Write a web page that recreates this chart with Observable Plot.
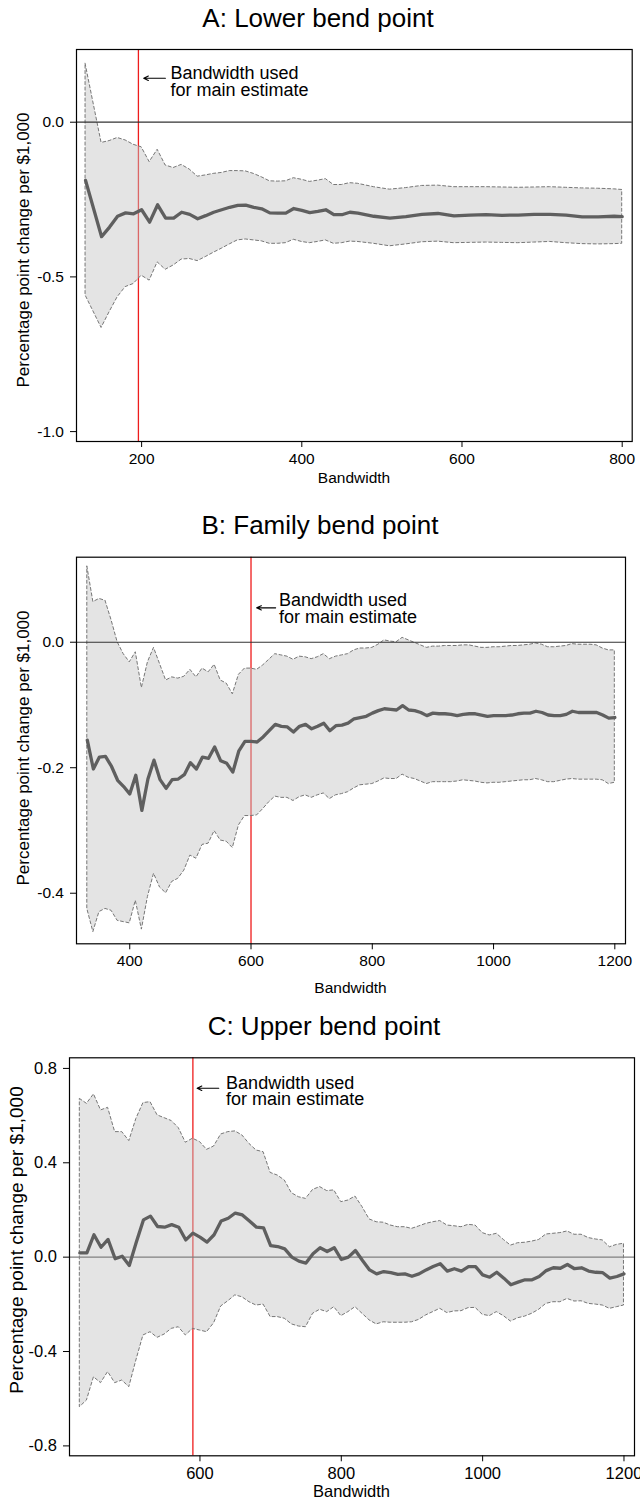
<!DOCTYPE html>
<html>
<head>
<meta charset="utf-8">
<script src="https://cdn.jsdelivr.net/npm/d3@7"></script>
<script src="https://cdn.jsdelivr.net/npm/@observablehq/plot@0.6"></script>
<style>
  body { margin: 0; background: #fff; }
  #chart { position: relative; width: 640px; height: 1502px; font-family: "Liberation Sans", Arial, sans-serif; }
  #chart svg { position: absolute; left: 0; }
</style>
</head>
<body>
<div id="chart"></div>
<script>
// ---------- Panel A: Lower bend point ----------
const aX = [130,150,160,170,180,190,200,210,220,230,240,250,260,270,280,290,300,310,320,330,340,350,360,370,380,390,400,410,420,430,440,450,460,470,
            490,510,530,550,570,590,610,630,650,670,690,710,730,750,770,790,800];
const aEst = [-0.188,-0.370,-0.339,-0.304,-0.293,-0.296,-0.283,-0.323,-0.267,-0.310,-0.310,-0.291,-0.298,-0.312,-0.302,-0.291,-0.283,-0.275,-0.269,-0.268,-0.275,-0.280,-0.293,-0.294,-0.294,-0.279,-0.285,-0.292,-0.288,-0.283,-0.299,-0.299,-0.291,-0.294,
              -0.304,-0.310,-0.305,-0.298,-0.295,-0.303,-0.300,-0.299,-0.301,-0.300,-0.298,-0.298,-0.300,-0.306,-0.306,-0.304,-0.305];
const aHi = [0.189,-0.067,-0.061,-0.051,-0.059,-0.073,-0.081,-0.129,-0.089,-0.140,-0.148,-0.138,-0.153,-0.176,-0.172,-0.167,-0.164,-0.158,-0.158,-0.159,-0.167,-0.178,-0.191,-0.192,-0.191,-0.181,-0.186,-0.193,-0.189,-0.184,-0.203,-0.203,-0.197,-0.199,
             -0.210,-0.218,-0.213,-0.206,-0.205,-0.210,-0.210,-0.210,-0.211,-0.212,-0.211,-0.210,-0.212,-0.214,-0.215,-0.217,-0.219];
const aLo = [-0.560,-0.665,-0.614,-0.566,-0.533,-0.523,-0.496,-0.512,-0.453,-0.477,-0.463,-0.444,-0.442,-0.449,-0.436,-0.422,-0.409,-0.395,-0.382,-0.379,-0.382,-0.385,-0.393,-0.393,-0.391,-0.380,-0.387,-0.391,-0.387,-0.382,-0.393,-0.391,-0.386,-0.387,
             -0.393,-0.401,-0.395,-0.388,-0.386,-0.391,-0.390,-0.389,-0.390,-0.391,-0.389,-0.387,-0.391,-0.394,-0.395,-0.394,-0.393];
const aXTicks = [200,400,600,800];
const aYTicks = [0,-0.5,-1.0];
const aUsed = 196;

// ---------- Panel B: Family bend point ----------
const bX = [330,340,350,360,370,380,390,400,410,420,430,440,450,460,470,480,490,500,510,520,530,540,550,560,570,580,590,600,610,620,630,640,650,660,670,680,690,700,710,720,730,740,750,760,770,780,
            790,800,810,820,830,840,850,860,870,880,890,900,910,920,930,940,950,960,970,980,990,1000,1010,1020,1030,1040,1050,1060,1070,1080,1090,1100,1110,1120,1130,1140,1150,1160,1170,1180,1190,1200];
const bEst = [-0.156,-0.202,-0.183,-0.182,-0.198,-0.220,-0.230,-0.242,-0.212,-0.268,-0.218,-0.188,-0.219,-0.233,-0.219,-0.218,-0.211,-0.192,-0.202,-0.183,-0.185,-0.167,-0.189,-0.193,-0.207,-0.173,-0.158,-0.158,-0.159,-0.151,-0.141,-0.131,-0.134,-0.135,-0.143,-0.134,-0.131,-0.138,-0.134,-0.129,-0.141,-0.133,-0.132,-0.129,-0.122,-0.120,
              -0.118,-0.113,-0.109,-0.106,-0.107,-0.108,-0.101,-0.108,-0.109,-0.112,-0.117,-0.113,-0.114,-0.114,-0.115,-0.117,-0.115,-0.114,-0.114,-0.116,-0.118,-0.117,-0.117,-0.117,-0.116,-0.114,-0.113,-0.113,-0.110,-0.112,-0.116,-0.117,-0.117,-0.115,-0.110,-0.112,-0.112,-0.112,-0.112,-0.116,-0.121,-0.120];
const bHi = [0.121,0.064,0.069,0.066,0.035,0.000,-0.019,-0.032,-0.016,-0.073,-0.032,-0.009,-0.035,-0.061,-0.056,-0.058,-0.055,-0.044,-0.056,-0.042,-0.048,-0.036,-0.061,-0.066,-0.083,-0.052,-0.042,-0.042,-0.044,-0.037,-0.028,-0.019,-0.021,-0.023,-0.028,-0.023,-0.024,-0.027,-0.024,-0.019,-0.027,-0.023,-0.021,-0.019,-0.013,-0.010,
             -0.010,-0.009,-0.004,0.003,0.001,0.000,0.007,0.003,-0.001,-0.005,-0.009,-0.007,-0.007,-0.006,-0.006,-0.006,-0.005,-0.005,-0.007,-0.009,-0.009,-0.008,-0.008,-0.007,-0.006,-0.006,-0.005,-0.004,-0.002,-0.004,-0.008,-0.008,-0.007,-0.006,-0.003,-0.004,-0.004,-0.004,-0.005,-0.010,-0.013,-0.013];
const bLo = [-0.425,-0.462,-0.430,-0.425,-0.428,-0.444,-0.446,-0.448,-0.412,-0.458,-0.406,-0.369,-0.391,-0.400,-0.382,-0.377,-0.364,-0.340,-0.345,-0.323,-0.321,-0.301,-0.316,-0.318,-0.328,-0.292,-0.277,-0.277,-0.276,-0.266,-0.255,-0.246,-0.248,-0.248,-0.253,-0.247,-0.244,-0.248,-0.244,-0.241,-0.250,-0.244,-0.242,-0.239,-0.233,-0.228,
             -0.227,-0.226,-0.222,-0.217,-0.218,-0.218,-0.211,-0.216,-0.218,-0.222,-0.226,-0.223,-0.223,-0.223,-0.223,-0.222,-0.220,-0.221,-0.222,-0.224,-0.225,-0.224,-0.224,-0.223,-0.222,-0.221,-0.220,-0.220,-0.218,-0.220,-0.223,-0.223,-0.221,-0.219,-0.218,-0.219,-0.219,-0.219,-0.219,-0.220,-0.226,-0.224];
const bXTicks = [400,600,800,1000,1200];
const bYTicks = [-0.4,-0.2,0];
const bUsed = 600;

// ---------- Panel C: Upper bend point ----------
const cX = [430,440,450,460,470,480,490,500,510,520,530,540,550,560,570,580,590,600,610,620,630,640,650,660,670,680,690,700,710,720,730,740,750,760,770,780,790,800,810,820,
            830,840,850,860,870,880,890,900,910,920,930,940,950,960,970,980,990,1000,1010,1020,1030,1040,1050,1060,1070,1080,1090,1100,1110,1120,1130,1140,1150,1160,1170,1180,1190,1200];
const cEst = [0.018,0.018,0.095,0.042,0.075,-0.007,0.004,-0.035,0.064,0.158,0.174,0.130,0.127,0.138,0.127,0.073,0.102,0.085,0.064,0.095,0.153,0.165,0.187,0.179,0.153,0.127,0.124,0.049,0.045,0.035,0.000,-0.017,-0.025,0.014,0.040,0.024,0.040,-0.010,0.000,0.028,
              -0.014,-0.054,-0.071,-0.061,-0.066,-0.073,-0.071,-0.081,-0.071,-0.054,-0.040,-0.028,-0.059,-0.049,-0.059,-0.040,-0.040,-0.075,-0.085,-0.064,-0.089,-0.117,-0.106,-0.096,-0.096,-0.082,-0.057,-0.045,-0.047,-0.031,-0.049,-0.045,-0.059,-0.064,-0.066,-0.089,-0.082,-0.071];
const cHi = [0.671,0.650,0.690,0.622,0.633,0.530,0.530,0.492,0.586,0.653,0.657,0.601,0.589,0.577,0.547,0.485,0.502,0.488,0.455,0.469,0.520,0.530,0.533,0.516,0.480,0.452,0.445,0.357,0.346,0.325,0.271,0.254,0.247,0.285,0.297,0.280,0.283,0.233,0.240,0.257,
             0.212,0.160,0.148,0.146,0.134,0.127,0.127,0.120,0.130,0.141,0.148,0.153,0.134,0.131,0.127,0.137,0.134,0.102,0.092,0.099,0.073,0.049,0.059,0.061,0.066,0.073,0.096,0.099,0.102,0.109,0.095,0.095,0.081,0.075,0.071,0.042,0.052,0.057];
const cLo = [-0.636,-0.608,-0.509,-0.534,-0.487,-0.534,-0.523,-0.551,-0.438,-0.332,-0.318,-0.342,-0.328,-0.304,-0.297,-0.332,-0.304,-0.311,-0.318,-0.280,-0.209,-0.187,-0.162,-0.170,-0.191,-0.205,-0.201,-0.254,-0.254,-0.261,-0.285,-0.294,-0.297,-0.240,-0.223,-0.233,-0.212,-0.250,-0.233,-0.212,
             -0.240,-0.268,-0.285,-0.276,-0.278,-0.278,-0.278,-0.276,-0.266,-0.247,-0.233,-0.219,-0.237,-0.230,-0.229,-0.216,-0.215,-0.244,-0.250,-0.233,-0.250,-0.273,-0.259,-0.252,-0.240,-0.223,-0.198,-0.191,-0.191,-0.177,-0.188,-0.187,-0.198,-0.201,-0.205,-0.219,-0.212,-0.205];
const cXTicks = [600,800,1000,1200];
const cYTicks = [-0.8,-0.4,0,0.4,0.8];
const cUsed = 590;

// ---------- Text ----------
const titles = ["A: Lower bend point", "B: Family bend point", "C: Upper bend point"];
const annotText = "Bandwidth used\nfor main estimate";
const xTitle = "Bandwidth";
const yTitle = "Percentage point change per $1,000";

// ---------- Layout / style config ----------
const panels = [
  {x:aX, est:aEst, lo:aLo, hi:aHi, xTicks:aXTicks, yTicks:aYTicks, used:aUsed, title:titles[0],
   top:0, height:500, mt:49, mb:59, ml:76, mr:8.3,
   xDomain:[118.7, 812.5], yDomain:[-1.032, 0.235],
   zeroColor:"#333", tickFont:15.5,
   arrow:{x1:229.7, x2:202.6, y:0.142}, annX:236, annY:0.0863,
   titleX:318, titleY:26.7, yLab:{x:23.3, y:250, size:17}, xLab:{x:354, y:483, size:15.5}},
  {x:bX, est:bEst, lo:bLo, hi:bHi, xTicks:bXTicks, yTicks:bYTicks, used:bUsed, title:titles[1],
   top:500, height:500, mt:56.7, mb:56.7, ml:76, mr:15,
   xDomain:[312.2, 1217.6], yDomain:[-0.4806, 0.1355],
   zeroColor:"#333", tickFont:15.5,
   arrow:{x1:640.6, x2:609.3, y:0.0548}, annX:646, annY:0.0303,
   titleX:320, titleY:34.3, yLab:{x:23, y:248, size:17}, xLab:{x:350.5, y:493, size:15.5}},
  {x:cX, est:cEst, lo:cLo, hi:cHi, xTicks:cXTicks, yTicks:cYTicks, used:cUsed, title:titles[2],
   top:1000, height:502, mt:57.3, mb:46.7, ml:69, mr:6,
   xDomain:[415.4, 1214.9], yDomain:[-0.842, 0.845],
   zeroColor:"#808080", tickFont:16.5,
   arrow:{x1:626.6, x2:596, y:0.716}, annX:637, annY:0.643,
   titleX:324, titleY:35.3, yLab:{x:16.7, y:240, size:19}, xLab:{x:351.5, y:497, size:16.5}}
];

const chart = document.getElementById("chart");
const FONT = '"Liberation Sans", Arial, sans-serif';

for (const p of panels) {
  const data = p.x.map((x, i) => ({x, est: p.est[i], lo: p.lo[i], hi: p.hi[i]}));
  const svg = Plot.plot({
    width: 640,
    height: p.height,
    marginTop: p.mt, marginBottom: p.mb, marginLeft: p.ml, marginRight: p.mr,
    style: {fontFamily: FONT, fontSize: p.tickFont + "px", color: "#000", background: "#fff", overflow: "visible"},
    x: {domain: p.xDomain, ticks: p.xTicks, tickFormat: d => String(d), tickSize: 6, tickPadding: 5, label: null},
    y: {domain: p.yDomain, ticks: p.yTicks, tickFormat: d => d.toFixed(1), tickSize: 6, tickPadding: 6.5, label: null},
    marks: [
      Plot.ruleX([p.used], {stroke: "#ee1c1c", strokeWidth: 1.3}),
      Plot.areaY(data, {x: "x", y1: "lo", y2: "hi", fill: "#c4c4c4", fillOpacity: 0.45,
                        stroke: "#777", strokeWidth: 1, strokeDasharray: "3,2.5"}),
      Plot.ruleY([0], {stroke: p.zeroColor, strokeWidth: 1.2}),
      Plot.lineY(data, {x: "x", y: "est", stroke: "#5f5f5f", strokeWidth: 3.3, strokeLinejoin: "round"}),
      Plot.arrow([p.arrow], {x1: "x1", y1: "y", x2: "x2", y2: "y", stroke: "#000", strokeWidth: 1.1, headLength: 7, headAngle: 50}),
      Plot.text([{x: p.annX, y: p.annY, t: annotText}], {x: "x", y: "y", text: "t", textAnchor: "start",
                 lineAnchor: "bottom", lineHeight: 0.93, fontSize: 18, fill: "#000"}),
      Plot.frame({stroke: "#000", strokeWidth: 1.2})
    ]
  });
  svg.style.top = p.top + "px";
  const s = d3.select(svg);
  s.append("text")
    .attr("x", p.titleX).attr("y", p.titleY)
    .attr("text-anchor", "middle")
    .attr("font-size", 26).attr("font-family", FONT).attr("fill", "#000")
    .text(p.title);
  s.append("text")
    .attr("transform", `translate(${p.yLab.x},${p.yLab.y}) rotate(-90)`)
    .attr("text-anchor", "middle").attr("dy", "0.35em")
    .attr("font-size", p.yLab.size).attr("font-family", FONT).attr("fill", "#000")
    .text(yTitle);
  s.append("text")
    .attr("x", p.xLab.x).attr("y", p.xLab.y)
    .attr("text-anchor", "middle")
    .attr("font-size", p.xLab.size).attr("font-family", FONT).attr("fill", "#000")
    .text(xTitle);
  chart.appendChild(svg);
}
</script>
</body>
</html>
